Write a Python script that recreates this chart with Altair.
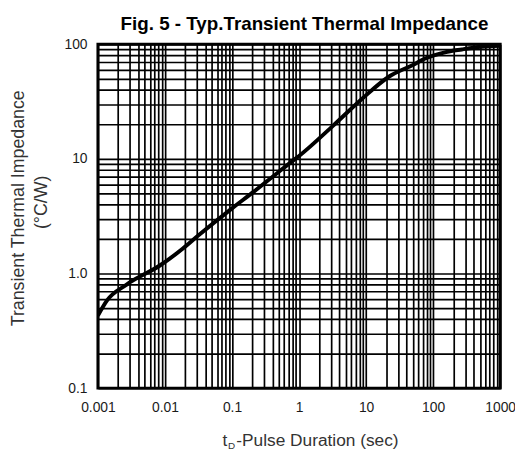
import altair as alt
import pandas as pd

# Curve (pulse duration in s, impedance in °C/W)
t_values = [0.001, 0.00136, 0.00268, 0.0085, 0.0185, 0.031, 0.1, 0.214, 0.47, 0.83, 1.0,
            3.2, 8.9, 21.8, 50, 76, 150, 268, 528, 1000]
z_values = [0.43, 0.58, 0.80, 1.18, 1.65, 2.13, 3.7, 5.2, 7.5, 9.75, 10.6,
            19.4, 33.8, 52, 66, 75, 85, 90, 95, 97]

x_tick_values = [0.001, 0.01, 0.1, 1, 10, 100, 1000]
x_tick_labels = ["0.001", "0.01", "0.1", "1", "10", "100", "1000"]
y_tick_values = [0.1, 1, 10, 100]
y_tick_labels = ["0.1", "1.0", "10", "100"]

title_text = "Fig. 5 - Typ.Transient Thermal Impedance"
y_title_lines = ["Transient Thermal Impedance", "(°C/W)"]
x_title_parts = ["t", "D", "-Pulse Duration (sec)"]

# grid positions: 1..9 x each decade
x_grid = [round(k * 10 ** e, 6) for e in range(-3, 3) for k in range(1, 10)] + [1000]
y_grid = [round(k * 10 ** e, 6) for e in range(-1, 2) for k in range(1, 10)] + [100]


def label_expr(vals, labs):
    s = ""
    for v, l in zip(vals, labs):
        s += f"datum.value == {v} ? '{l}' : "
    return s + "''"


FONT = "Liberation Sans"
df = pd.DataFrame({"t": t_values, "z": z_values})

common_axis = dict(grid=True, gridColor="black", gridWidth=1.7, gridOpacity=1,
                   ticks=False, domain=False, labelFontSize=14, labelFont=FONT,
                   labelColor="#1a1a1a", labelOverlap=False, labelFlush=False,
                   labelBound=False, title=None)

line = alt.Chart(df).mark_line(color="black", strokeWidth=4, interpolate="monotone", clip=True).encode(
    x=alt.X("t:Q", scale=alt.Scale(type="log", domain=[0.001, 1000], nice=False),
            axis=alt.Axis(values=x_grid, labelExpr=label_expr(x_tick_values, x_tick_labels),
                          labelPadding=13, **common_axis)),
    y=alt.Y("z:Q", scale=alt.Scale(type="log", domain=[0.1, 100], nice=False),
            axis=alt.Axis(values=y_grid, labelExpr=label_expr(y_tick_values, y_tick_labels),
                          labelPadding=11, **common_axis)),
)


def txt(s, x, y, size, angle=0, align="left", baseline="alphabetic", color="#333", weight="normal"):
    d = pd.DataFrame({"s": [s]})
    kw = dict(fontSize=size, font=FONT, color=color, align=align, baseline=baseline, fontWeight=weight)
    if angle:
        kw["angle"] = angle
    return alt.Chart(d).mark_text(**kw).encode(text="s:N", x=alt.value(x), y=alt.value(y))


ttl = txt(title_text, 209, -14, 19, align="center", color="black", weight="bold")
yt1 = txt(y_title_lines[0], -80, 166, 18, angle=270, align="center", baseline="middle")
yt2 = txt(y_title_lines[1], -57, 160, 18, angle=270, align="center", baseline="middle")
xt1 = txt(x_title_parts[0], 126, 407, 17.5)
xt2 = txt(x_title_parts[1], 131.5, 410, 10)
xt3 = txt(x_title_parts[2], 140, 407, 17.5)

chart = alt.layer(line, ttl, yt1, yt2, xt1, xt2, xt3).properties(
    width=407, height=348,
    autosize=alt.AutoSizeParams(type="none"),
    padding={"left": 91, "top": 34, "right": 15, "bottom": 64},
).configure_view(stroke="black", strokeWidth=3)

chart.save("out.html", embed_options={"renderer": "svg", "actions": False})
